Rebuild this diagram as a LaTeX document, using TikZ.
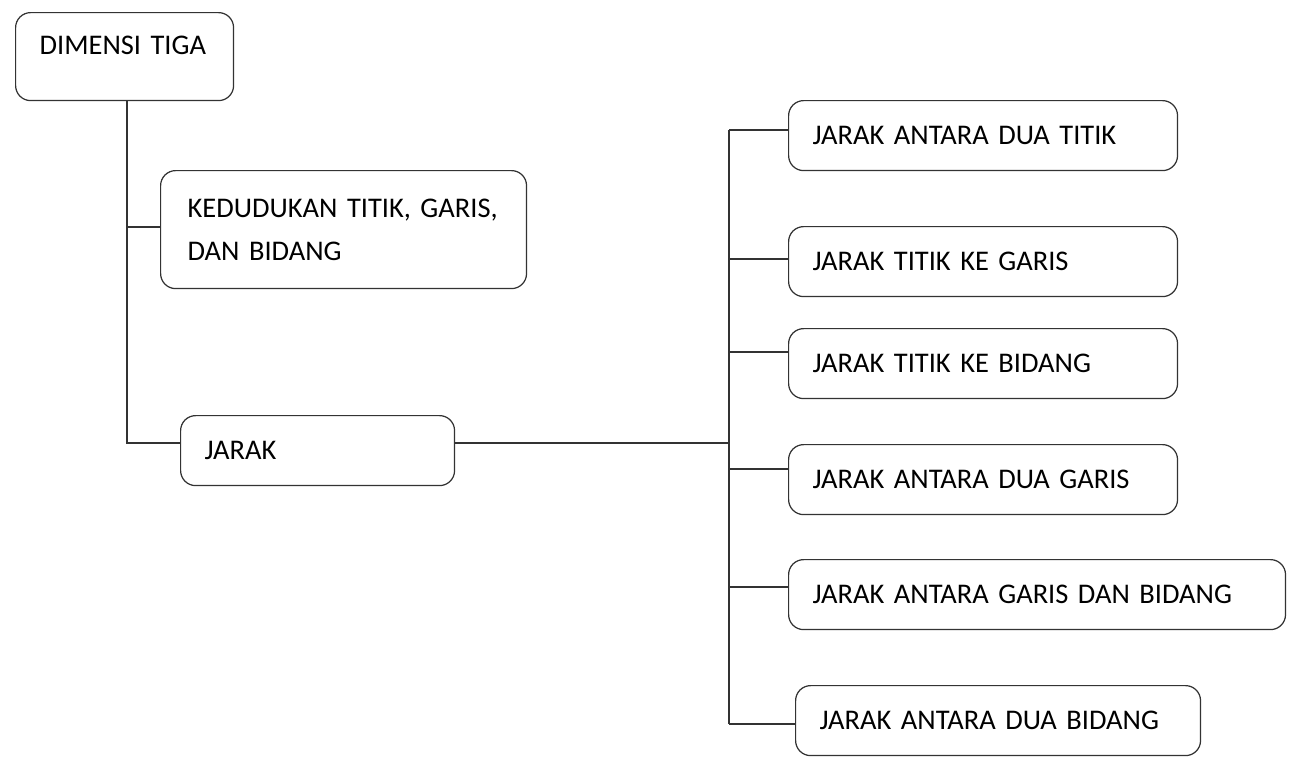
\documentclass[tikz,border=0pt]{standalone}
\usepackage{fontspec}
\setmainfont{Carlito}
\usepackage{tikz}
\usetikzlibrary{calc}
\tikzstyle{box}  = [rectangle, rounded corners=0.3cm, draw=black!80, line width=0.7pt, align=left, inner xsep=0.48cm, anchor=north west, font=\fontsize{16.2}{24.5}\selectfont]
\tikzstyle{item} = [box, text width=6.82cm, minimum height=1.4cm]
\tikzstyle{link} = [draw=black!80, line width=0.7pt]

\begin{document}
\begin{tikzpicture}[x=0.02cm, y=-0.02cm]
    \useasboundingbox (0,0) rectangle (1294,774);
    \node (dim)   [box, text width=3.40cm, minimum height=1.76cm, text depth=0.45cm] at (15,12)  {DIMENSI TIGA};
    \node (ked)   [box, text width=6.24cm, minimum height=2.36cm, inner xsep=0.54cm] at (160,170) {KEDUDUKAN TITIK, GARIS,\\DAN BIDANG};
    \node (jarak) [box, text width=4.52cm, minimum height=1.4cm]  at (180,415) {JARAK};

    \node (t1) [item] at (788,100) {JARAK ANTARA DUA TITIK};
    \node (t2) [item] at (788,226) {JARAK TITIK KE GARIS};
    \node (t3) [item] at (788,328) {JARAK TITIK KE BIDANG};
    \node (t4) [item] at (788,444) {JARAK ANTARA DUA GARIS};
    \node (t5) [item, text width=8.98cm] at (788,559) {JARAK ANTARA GARIS DAN BIDANG};
    \node (t6) [item, text width=7.14cm] at (795,685) {JARAK ANTARA DUA BIDANG};

    % left trunk
    \coordinate (k) at (127,227);
    \coordinate (j) at (127,443);
    \draw [link] (k |- dim.south) -- (j) -- (j -| jarak.west);
    \draw [link] (k) -- (k -| ked.west);

    % right trunk
    \coordinate (hub) at (729,443);
    \coordinate (b1) at (729,130);
    \coordinate (b2) at (729,259);
    \coordinate (b3) at (729,352);
    \coordinate (b4) at (729,469);
    \coordinate (b5) at (729,587);
    \coordinate (b6) at (729,724);
    \draw [link] (j -| jarak.east) -- (hub);
    \draw [link] (b1) -- (b6);
    \foreach \i in {1,...,6}
        \draw [link] (b\i) -- (b\i -| t\i.west);
\end{tikzpicture}
\end{document}
